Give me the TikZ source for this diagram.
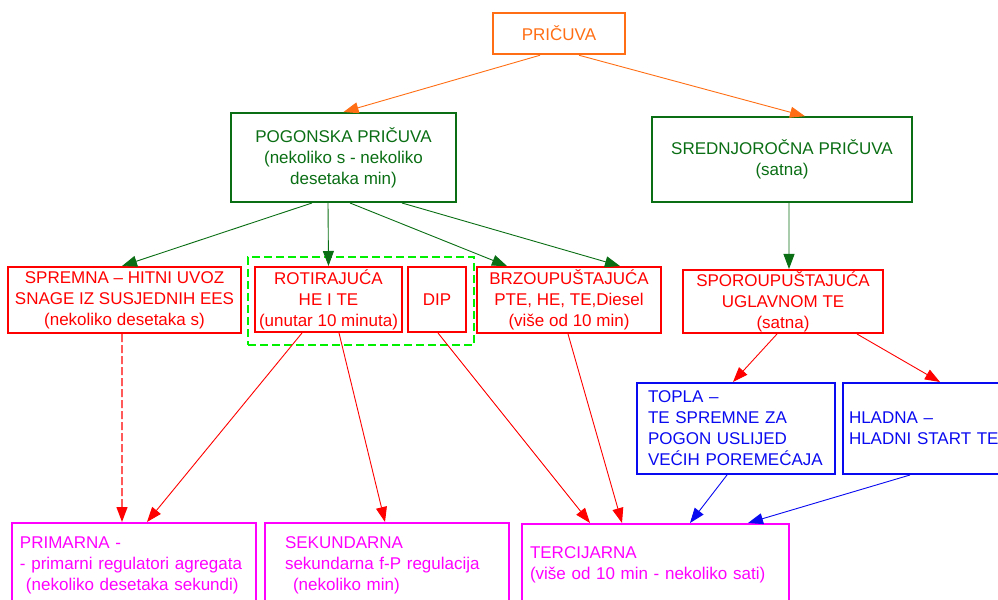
\documentclass[tikz,border=0pt]{standalone}
\usepackage{fontspec}
\setmainfont{Liberation Sans}
\usetikzlibrary{arrows.meta}
\definecolor{porange}{RGB}{255,110,20}
\definecolor{pgreen}{RGB}{10,110,20}
\definecolor{lgreen}{RGB}{0,240,0}
\definecolor{pred}{RGB}{255,0,0}
\definecolor{pblue}{RGB}{10,10,240}
\definecolor{pmagenta}{RGB}{255,0,255}
\tikzset{>={Triangle[length=15bp,width=11bp]}}
\tikzset{
  box/.style = {draw, line width=2bp, inner sep=0pt, align=center,
                font=\fontsize{17bp}{21bp}\selectfont},
  leftbox/.style = {box, align=left},
  vez/.style = {->, line width=0.9bp}
}

\begin{document}
\begin{tikzpicture}[x=1bp,y=-1bp]
  \useasboundingbox (0,0) rectangle (998,600);
  \clip (0,0) rectangle (998,600);
  % top
  \node[box, porange, line width=2.5bp, minimum width=132bp, minimum height=41bp] (pricuva) at (559,33.5) {PRIČUVA};
  \node[box, pgreen, minimum width=225bp, minimum height=89bp] (pogonska) at (343.5,157.5) {POGONSKA PRIČUVA\\(nekoliko s - nekoliko\\desetaka min)};
  \node[box, pgreen, line width=1.6bp, minimum width=260bp, minimum height=85bp] (srednjorocna) at (782,159.5) {SREDNJOROČNA PRIČUVA\\(satna)};
  % red row
  \node[draw=lgreen, line width=2bp, dash pattern=on 8bp off 4bp, minimum width=226bp, minimum height=88bp, inner sep=0pt] (grupa) at (361,301) {};
  \node[box, pred, minimum width=233bp, minimum height=66bp] (spremna) at (124.5,300) {SPREMNA – HITNI UVOZ\\SNAGE IZ SUSJEDNIH EES\\(nekoliko desetaka s)};
  \node[box, pred, minimum width=147bp, minimum height=65bp] (rotirajuca) at (328.5,299.5) {ROTIRAJUĆA\\HE I TE\\(unutar 10 minuta)};
  \node[box, pred, minimum width=58bp, minimum height=65bp] (dip) at (437,299.5) {DIP};
  \node[box, pred, minimum width=184bp, minimum height=66bp] (brzo) at (569,300) {BRZOUPUŠTAJUĆA\\PTE, HE, TE,Diesel\\(više od 10 min)};
  \node[box, pred, minimum width=200bp, minimum height=63bp] (sporo) at (783,301.5) {SPOROUPUŠTAJUĆA\\UGLAVNOM TE\\(satna)};
  % blue row
  \node[leftbox, pblue, text width=176bp, inner xsep=11bp, minimum height=91bp] (topla) at (736,428.5) {TOPLA –\\TE SPREMNE ZA\\POGON USLIJED\\VEĆIH POREMEĆAJA};
  \node[leftbox, pblue, text width=155bp, inner xsep=6bp, minimum height=91bp] (hladna) at (926.5,428.5) {HLADNA –\\HLADNI START TE};
  % bottom
  \node[leftbox, pmagenta, text width=228bp, inner xsep=8bp, minimum height=84bp] (primarna) at (134,565) {PRIMARNA -\\- primarni regulatori agregata\\\hspace{6bp}(nekoliko desetaka sekundi)};
  \node[leftbox, pmagenta, text width=204bp, inner xsep=20bp, minimum height=84bp] (sekundarna) at (387,565) {SEKUNDARNA\\sekundarna f-P regulacija\\\hspace{8bp}(nekoliko min)};
  \node[leftbox, pmagenta, text width=251bp, inner xsep=8bp, minimum height=82bp] (tercijarna) at (655.5,565) {TERCIJARNA\\(više od 10 min - nekoliko sati)};
  % arrows
  \draw[vez, porange] ([xshift=-19bp]pricuva.south) -- (pogonska.north);
  \draw[vez, porange] ([xshift=20bp]pricuva.south) -- ([xshift=23bp]srednjorocna.north);
  \draw[vez, pgreen] ([xshift=-31.5bp]pogonska.south) -- ([xshift=-2.5bp]spremna.north);
  \draw[vez, pgreen] ([xshift=-15.5bp]pogonska.south) -- (rotirajuca.north);
  \draw[vez, pgreen] ([xshift=6.5bp]pogonska.south) -- ([xshift=-62bp]brzo.north);
  \draw[vez, pgreen] ([xshift=58.5bp]pogonska.south) -- ([xshift=51bp]brzo.north);
  \draw[vez, pgreen] ([xshift=7bp]srednjorocna.south) -- ([xshift=6bp]sporo.north);
  \draw[vez, pred, line width=1.3bp, dash pattern=on 8bp off 3bp] ([xshift=-2.5bp]spremna.south) -- ([xshift=-12bp]primarna.north);
  \draw[vez, pred] ([xshift=-26.5bp]rotirajuca.south) -- ([xshift=13bp]primarna.north);
  \draw[vez, pred] ([xshift=10.5bp]rotirajuca.south) -- ([xshift=-2bp]sekundarna.north);
  \draw[vez, pred] ([xshift=1bp]dip.south) -- ([xshift=-65.5bp]tercijarna.north);
  \draw[vez, pred] ([xshift=-1bp]brzo.south) -- ([xshift=-33.5bp]tercijarna.north);
  \draw[vez, pred] ([xshift=-6bp]sporo.south) -- ([xshift=-3bp]topla.north);
  \draw[vez, pred] ([xshift=74bp]sporo.south) -- ([xshift=13.5bp]hladna.north);
  \draw[vez, pblue] ([xshift=-9bp]topla.south) -- ([xshift=34.5bp]tercijarna.north);
  \draw[vez, pblue] ([xshift=-16.5bp]hladna.south) -- ([xshift=92.5bp]tercijarna.north);
\end{tikzpicture}
\end{document}
